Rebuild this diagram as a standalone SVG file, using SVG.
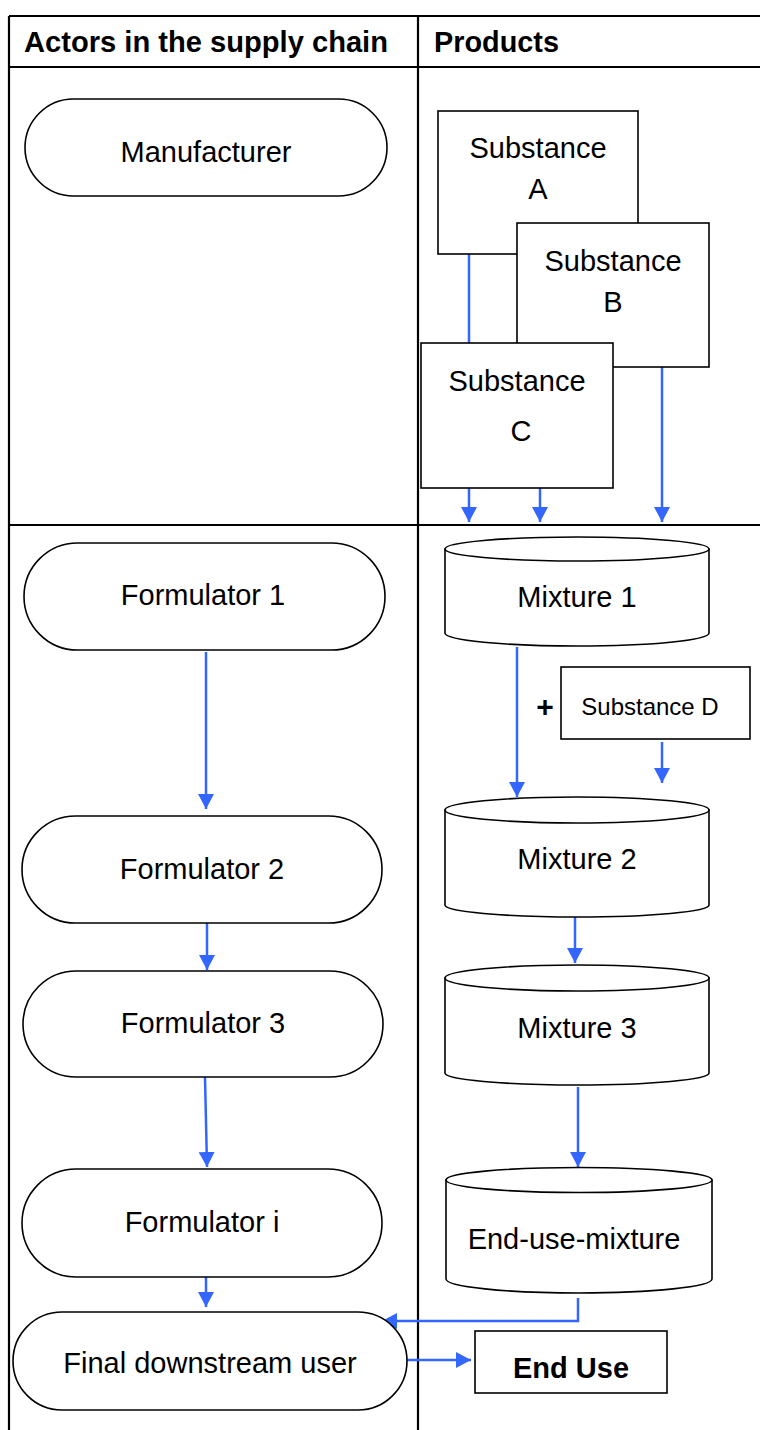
<svg xmlns="http://www.w3.org/2000/svg" width="760" height="1430" viewBox="0 0 760 1430">
<style>
.tbl{stroke:#000;stroke-width:2.2;fill:none}
.nd{fill:#fff;stroke:#000;stroke-width:1.6}
.t{font-family:"Liberation Sans",Arial,sans-serif;font-size:29px;fill:#000;text-anchor:middle}
.h{font-family:"Liberation Sans",Arial,sans-serif;font-size:29px;font-weight:bold;fill:#000}
.c{stroke:#3366ff;stroke-width:2.5;fill:none}
</style>
<defs>
<marker id="ah" markerUnits="userSpaceOnUse" markerWidth="18" markerHeight="18" refX="15" refY="8" orient="auto">
<path d="M0,0 L15,8 L0,16 Z" fill="#3366ff"/>
</marker>
</defs>
<rect width="760" height="1430" fill="#fff"/>
<g id="table">
<line class="tbl" x1="9" y1="16" x2="760" y2="16"/>
<line class="tbl" x1="9" y1="67" x2="760" y2="67"/>
<line class="tbl" x1="9" y1="525" x2="760" y2="525"/>
<line class="tbl" x1="9" y1="16" x2="9" y2="1430"/>
<line class="tbl" x1="418" y1="16" x2="418" y2="1430"/>
<text class="h" x="24" y="52" textLength="364" lengthAdjust="spacingAndGlyphs">Actors in the supply chain</text>
<text class="h" x="434" y="52" textLength="125" lengthAdjust="spacingAndGlyphs">Products</text>
</g>
<g id="connectors">
<line class="c" x1="469" y1="254" x2="469" y2="344"/>
<line class="c" x1="469" y1="488" x2="469" y2="522" marker-end="url(#ah)"/>
<line class="c" x1="540" y1="488" x2="540" y2="522" marker-end="url(#ah)"/>
<line class="c" x1="662" y1="367" x2="662" y2="522" marker-end="url(#ah)"/>
<line class="c" x1="517" y1="647" x2="517" y2="797" marker-end="url(#ah)"/>
<line class="c" x1="662" y1="742" x2="662" y2="783" marker-end="url(#ah)"/>
<line class="c" x1="575" y1="917" x2="575" y2="963" marker-end="url(#ah)"/>
<line class="c" x1="578" y1="1087" x2="578" y2="1167" marker-end="url(#ah)"/>
<path class="c" d="M578,1298 L578,1321 L382,1321" marker-end="url(#ah)"/>
<line class="c" x1="206" y1="652" x2="206" y2="809" marker-end="url(#ah)"/>
<line class="c" x1="207" y1="923" x2="207" y2="970" marker-end="url(#ah)"/>
<line class="c" x1="205" y1="1077" x2="207" y2="1167" marker-end="url(#ah)"/>
<line class="c" x1="206" y1="1277" x2="206" y2="1307" marker-end="url(#ah)"/>
<line class="c" x1="407" y1="1360" x2="471" y2="1360" marker-end="url(#ah)"/>
</g>
<g id="manufacturer"><rect class="nd" x="25" y="99" width="362" height="97" rx="48.5"/><text class="t" x="206" y="162">Manufacturer</text></g>
<g id="formulator1"><rect class="nd" x="24" y="543" width="361" height="107" rx="53.5"/><text class="t" x="203" y="605">Formulator 1</text></g>
<g id="formulator2"><rect class="nd" x="22" y="816" width="360" height="107" rx="53.5"/><text class="t" x="202" y="879">Formulator 2</text></g>
<g id="formulator3"><rect class="nd" x="23" y="971" width="360" height="106" rx="53"/><text class="t" x="203" y="1033">Formulator 3</text></g>
<g id="formulatori"><rect class="nd" x="22" y="1169" width="360" height="108" rx="54"/><text class="t" x="202" y="1232">Formulator i</text></g>
<g id="finaluser"><rect class="nd" x="13" y="1312" width="394" height="98" rx="49"/><text class="t" x="210" y="1373">Final downstream user</text></g>
<g id="substanceA"><rect class="nd" x="438" y="111" width="200" height="143"/><text class="t" x="538" y="158">Substance</text><text class="t" x="538" y="199">A</text></g>
<g id="substanceB"><rect class="nd" x="517" y="223" width="192" height="144"/><text class="t" x="613" y="271">Substance</text><text class="t" x="613" y="312">B</text></g>
<g id="substanceC"><rect class="nd" x="421" y="343" width="192" height="145"/><text class="t" x="517" y="391">Substance</text><text class="t" x="521" y="441">C</text></g>
<g id="mixture1"><path class="nd" d="M445,549 L445,633 A132,13 0 0 0 709,633 L709,549 Z"/><ellipse class="nd" cx="577" cy="549" rx="132" ry="12"/><text class="t" x="577" y="607">Mixture 1</text></g>
<g id="plus"><text class="t" x="545" y="717" style="font-size:30px;font-weight:bold">+</text></g>
<g id="substanceD"><rect class="nd" x="561" y="667" width="189" height="72"/><text class="t" x="650" y="715" style="font-size:24px">Substance D</text></g>
<g id="mixture2"><path class="nd" d="M445,810 L445,905 A132,12 0 0 0 709,905 L709,810 Z"/><ellipse class="nd" cx="577" cy="810" rx="132" ry="13"/><text class="t" x="577" y="869">Mixture 2</text></g>
<g id="mixture3"><path class="nd" d="M445,978 L445,1073 A132,12 0 0 0 709,1073 L709,978 Z"/><ellipse class="nd" cx="577" cy="978" rx="132" ry="13"/><text class="t" x="577" y="1038">Mixture 3</text></g>
<g id="endusemixture"><path class="nd" d="M446,1180 L446,1279 A133,14 0 0 0 712,1279 L712,1180 Z"/><ellipse class="nd" cx="579" cy="1180" rx="133" ry="12.5"/><text class="t" x="574" y="1249">End-use-mixture</text></g>
<g id="enduse"><rect class="nd" x="475" y="1331" width="192" height="62"/><text class="t" x="571" y="1378" style="font-weight:bold">End Use</text></g>
</svg>
